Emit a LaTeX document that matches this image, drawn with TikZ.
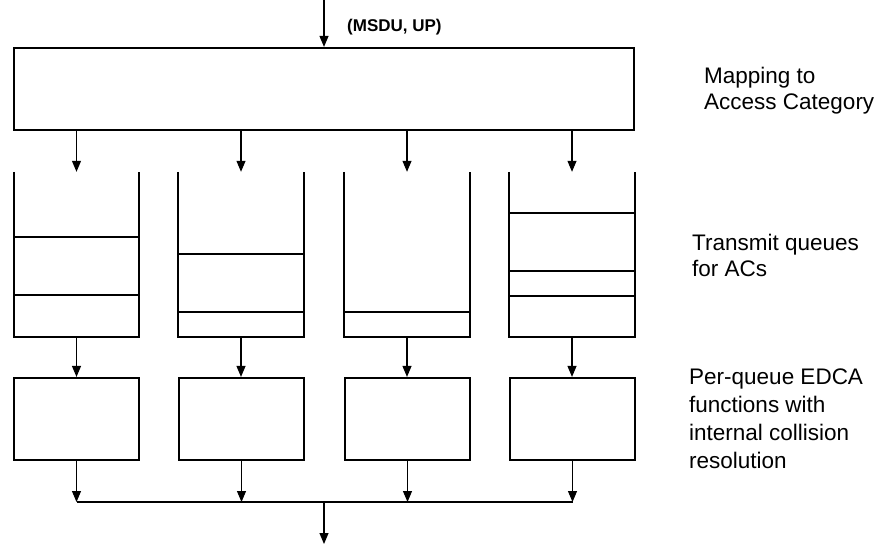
\documentclass[tikz,border=0pt]{standalone}
\usepackage{fontspec}
\setmainfont{Liberation Sans}
\usetikzlibrary{arrows.meta}
\begin{document}
\begin{tikzpicture}[x=1pt,y=-1pt,
  box/.style={draw, line width=2.2pt, minimum width=125pt, minimum height=82pt, inner sep=0pt},
  queue/.style={minimum width=125pt, minimum height=165pt, inner sep=0pt},
  qline/.style={line width=2.2pt},
  thinq/.style={line width=1.1pt},
  arr/.style={line width=1.1pt, -{Triangle[width=9pt,length=11pt]}},
  link/.style={line width=1.1pt},
  lbl/.style={font=\fontsize{22.5}{26}\selectfont, align=left, anchor=north west, inner sep=0pt}
]
\useasboundingbox (0,0) rectangle (882,545);
% input
\coordinate (in) at (324,0);
\node[box, minimum width=620pt] (map) at (324,89) {};
\node[font=\bfseries\fontsize{17}{20}\selectfont, anchor=base west, inner sep=0pt] (msdu) at (347,32) {(MSDU, UP)};
\draw[arr] (in) -- (map.north -| in);
% queues
\node[queue] (q1) at (76.5,254.5) {};
\node[queue] (q2) at (241,254.5) {};
\node[queue] (q3) at (407,254.5) {};
\node[queue] (q4) at (572,254.5) {};
\foreach \q in {q1,q2,q3,q4}{
  \draw[qline] (\q.north west) -- (\q.south west) -- (\q.south east) -- (\q.north east);
  \draw[arr] (map.south -| \q) -- (\q.north);
}
% queue contents
\draw[qline] (q1.west |- 0,237) -- (q1.east |- 0,237);
\draw[qline] (q1.west |- 0,295) -- (q1.east |- 0,295);
\draw[qline] (q2.west |- 0,254) -- (q2.east |- 0,254);
\draw[qline] (q2.west |- 0,312) -- (q2.east |- 0,312);
\draw[qline] (q3.west |- 0,312) -- (q3.east |- 0,312);
\draw[qline] (q4.west |- 0,213) -- (q4.east |- 0,213);
\draw[qline] (q4.west |- 0,271) -- (q4.east |- 0,271);
\draw[thinq] (q4.west |- 0,296) -- (q4.east |- 0,296);
% EDCA boxes
\node[box] (e1) at (76.5,419) {};
\node[box] (e2) at (241.5,419) {};
\node[box] (e3) at (407.5,419) {};
\node[box] (e4) at (572.5,419) {};
\coordinate (b1) at (76.5,502);
\coordinate (b2) at (241.5,502);
\coordinate (b3) at (407.5,502);
\coordinate (b4) at (572.5,502);
\coordinate (bm) at (324,502);
\coordinate (out) at (324,544);
\foreach \i in {1,2,3,4}{
  \draw[arr] (q\i.south) -- (e\i.north -| q\i);
  \draw[arr] (e\i.south) -- (b\i);
}
\draw[link] (b1) -- (b4);
\draw[arr] (bm) -- (out);
% labels
\node[lbl] (l1) at (704,67) {Mapping to\\Access Category};
\node[lbl] (l2) at (692,234) {Transmit queues\\for ACs};
\node[lbl, font=\fontsize{22.5}{28}\selectfont] (l3) at (689,368.5) {Per-queue EDCA\\functions with\\internal collision\\resolution};
\end{tikzpicture}
\end{document}
